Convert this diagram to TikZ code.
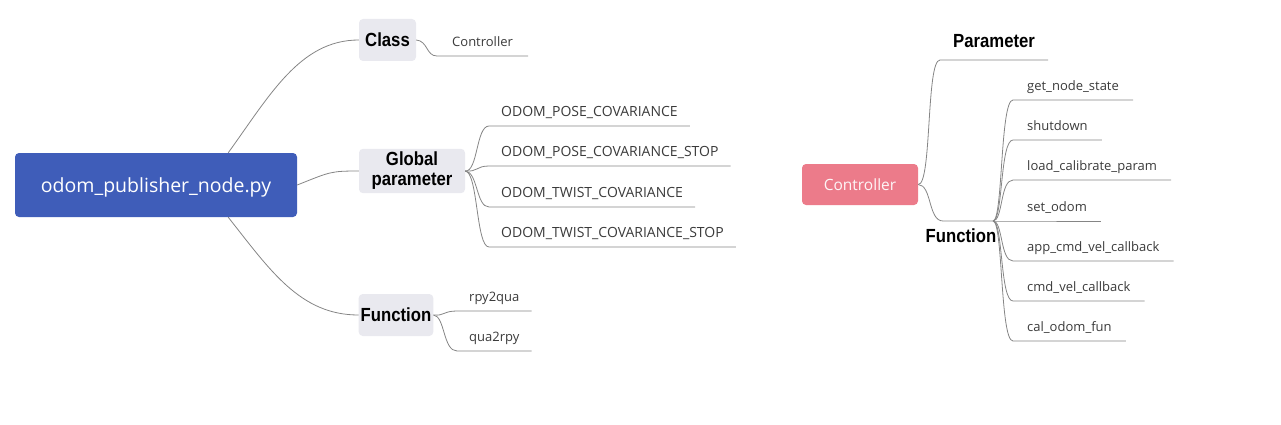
\documentclass[tikz,border=0pt]{standalone}
\usepackage{fontspec}
\setmainfont{Open Sans}
\newfontfamily\headfont[FakeStretch=0.88]{Liberation Sans}
\definecolor{rootblue}{HTML}{3F5DB9}
\definecolor{ctrlpink}{HTML}{EC7B8A}
\definecolor{topicgray}{HTML}{E9E9EF}
\definecolor{linegray}{HTML}{858585}
\definecolor{leaftext}{HTML}{3A3A3A}
\tikzset{
    root/.style={fill=rootblue, rounded corners=4pt, text=white, minimum width=282pt,
        minimum height=64pt, text depth=0pt, font=\fontsize{19.5}{22}\selectfont},
    topic/.style={fill=topicgray, rounded corners=4pt, minimum height=42pt, inner xsep=2pt,
        align=center, font=\headfont\bfseries\fontsize{19}{21}\selectfont},
    leaf/.style={anchor=south west, inner xsep=12pt, inner ysep=0pt, text depth=9.5pt,
        text=leaftext, font=\fontsize{13}{15}\selectfont},
    headleaf/.style={leaf, text=black, font=\headfont\bfseries\fontsize{19}{21}\selectfont},
    branch/.style={draw=linegray, line width=0.8pt}
}
\begin{document}
\begin{tikzpicture}[x=1pt, y=-1pt]
    \useasboundingbox (0,0) rectangle (1281,425);
    % Left map
    \node[root] (root) at (156,185) {odom\_publisher\_node.py};
    \node[topic, minimum width=57pt, text depth=0pt] (cls) at (387.5,40) {Class};
    \node[topic, minimum width=106pt] (gp) at (412,171) {Global\\[-1pt]parameter};
    \node[topic, minimum width=74pt, text depth=0pt] (fn) at (396,315) {Function};
    \draw[branch] ([xshift=-69pt]root.north east) .. controls (270,95) and (300,40) .. (cls.west);
    \draw[branch] (root.east) .. controls (330,172) and (330,171) .. (gp.west);
    \draw[branch] ([xshift=-69pt]root.south east) .. controls (270,270) and (300,315) .. (fn.west);
    % Class
    \node[leaf, inner xsep=15pt] (cc) at (437,56) {Controller};
    \draw[branch] (cls.east) .. controls (428,41) and (426,56) .. (cc.south west) -- (cc.south east);
    % Global parameter
    \foreach \lbl/\y [count=\i] in {ODOM\_POSE\_COVARIANCE/126,
                                    ODOM\_POSE\_COVARIANCE\_STOP/166,
                                    ODOM\_TWIST\_COVARIANCE/207,
                                    ODOM\_TWIST\_COVARIANCE\_STOP/247}
    {
        \node[leaf, font=\fontsize{14}{16}\selectfont] (gp\i) at (489,\y) {\lbl};
        \draw[branch] (gp.east) .. controls (478,172) and (476,\y) .. (gp\i.south west) -- (gp\i.south east);
    }
    % Function
    \foreach \lbl/\y [count=\i] in {rpy2qua/311, qua2rpy/351}
    {
        \node[leaf] (fn\i) at (457,\y) {\lbl};
        \draw[branch] (fn.east) .. controls (445,316) and (443,\y) .. (fn\i.south west) -- (fn\i.south east);
    }
    % Right map
    \node[topic, fill=ctrlpink, text=white!92!ctrlpink, minimum width=116pt, minimum height=41pt,
        font=\fontsize{15.5}{17}\selectfont] (ctrl) at (860,184.5) {Controller};
    \node[headleaf, inner xsep=13pt, text depth=12pt] (par) at (940,60) {Parameter};
    \draw[branch] (ctrl.east) .. controls (932,185) and (926,60) .. (par.south west) -- (par.south east);
    \coordinate (fs) at (943,221);
    \coordinate (fj) at (993,221);
    \node[inner sep=0pt, anchor=north, font=\headfont\bfseries\fontsize{19}{21}\selectfont] (fnr) at (961,229) {Function};
    \draw[branch] (ctrl.east) .. controls (932,185) and (928,221) .. (fs) -- (fj);
    \foreach \lbl/\y [count=\i] in {get\_node\_state/100, shutdown/140, load\_calibrate\_param/180,
                                    set\_odom/221, app\_cmd\_vel\_callback/261,
                                    cmd\_vel\_callback/301, cal\_odom\_fun/341}
    {
        \node[leaf, inner xsep=14pt] (m\i) at (1013,\y) {\lbl};
        \draw[branch] (fj) .. controls (1003,221) and (1000,\y) .. (m\i.south west) -- (m\i.south east);
    }
\end{tikzpicture}
\end{document}
